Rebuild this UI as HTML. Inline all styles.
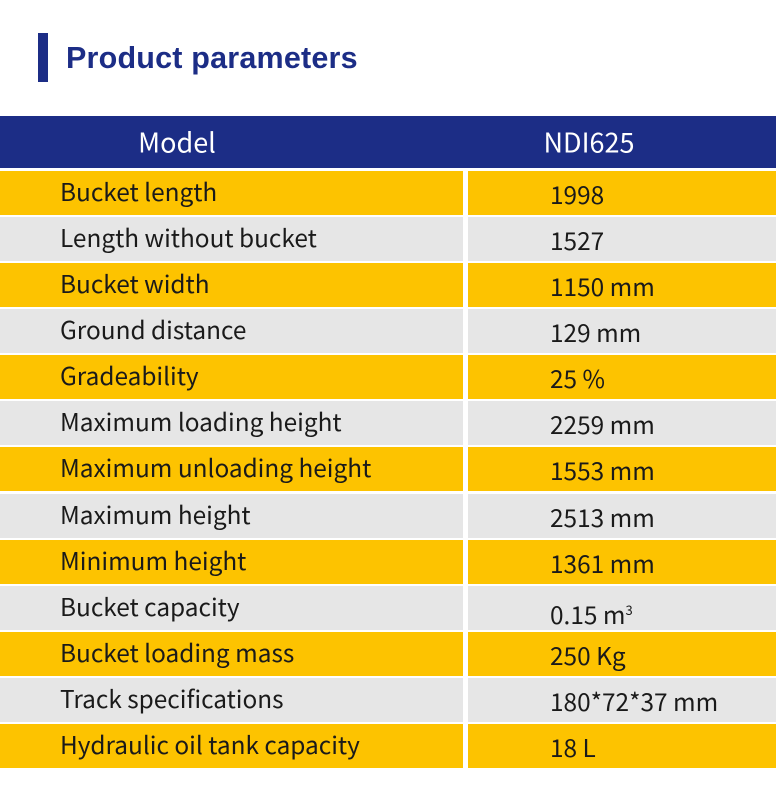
<!DOCTYPE html>
<html><head><meta charset="utf-8"><style>
body{margin:0;width:776px;height:800px;background:#fff;position:relative;overflow:hidden;font-family:"Noto Sans CJK SC","Liberation Sans",sans-serif;}
.bar{position:absolute;left:38px;top:33px;width:10px;height:49px;background:#1c2d86;}
.title{position:absolute;left:66px;top:41px;font:bold 30.5px "Liberation Sans",sans-serif;color:#1c2d86;letter-spacing:0.2px;}
.hdr{position:absolute;left:0;top:116px;width:776px;height:52px;background:#1c2d86;color:#fff;font-size:27px;}
.hdr span{position:absolute;top:50%;transform:translate(-50%,-52%);white-space:nowrap;}
.row{position:absolute;left:0;width:776px;height:44px;font-size:24.4px;color:#1a1a1a;}
.row .l,.row .r{position:absolute;top:0;height:44px;line-height:42px;}
.row .l{left:0;width:463px;padding-left:60px;box-sizing:border-box;}
.row .r{left:468px;right:0;padding-left:82px;line-height:47px;}
.y .l,.y .r{background:#fdc300;}
.g .l,.g .r{background:#e6e6e6;}
</style></head><body>
<div class="bar"></div>
<div class="title">Product parameters</div>
<div class="hdr"><span style="left:177px">Model</span><span style="left:589px">NDI625</span></div>
<div class="row y" style="top:171px"><div class="l">Bucket length</div><div class="r">1998</div></div>
<div class="row g" style="top:217px"><div class="l">Length without bucket</div><div class="r">1527</div></div>
<div class="row y" style="top:263px"><div class="l">Bucket width</div><div class="r">1150 mm</div></div>
<div class="row g" style="top:309px"><div class="l">Ground distance</div><div class="r">129 mm</div></div>
<div class="row y" style="top:355px"><div class="l">Gradeability</div><div class="r">25 %</div></div>
<div class="row g" style="top:401px"><div class="l">Maximum loading height</div><div class="r">2259 mm</div></div>
<div class="row y" style="top:447px"><div class="l">Maximum unloading height</div><div class="r">1553 mm</div></div>
<div class="row g" style="top:494px"><div class="l">Maximum height</div><div class="r">2513 mm</div></div>
<div class="row y" style="top:540px"><div class="l">Minimum height</div><div class="r">1361 mm</div></div>
<div class="row g" style="top:586px"><div class="l">Bucket capacity</div><div class="r">0.15 m<sup style="font-size:13px">3</sup></div></div>
<div class="row y" style="top:632px"><div class="l">Bucket loading mass</div><div class="r">250 Kg</div></div>
<div class="row g" style="top:678px"><div class="l">Track specifications</div><div class="r">180*72*37 mm</div></div>
<div class="row y" style="top:724px"><div class="l">Hydraulic oil tank capacity</div><div class="r">18 L</div></div>
</body></html>
